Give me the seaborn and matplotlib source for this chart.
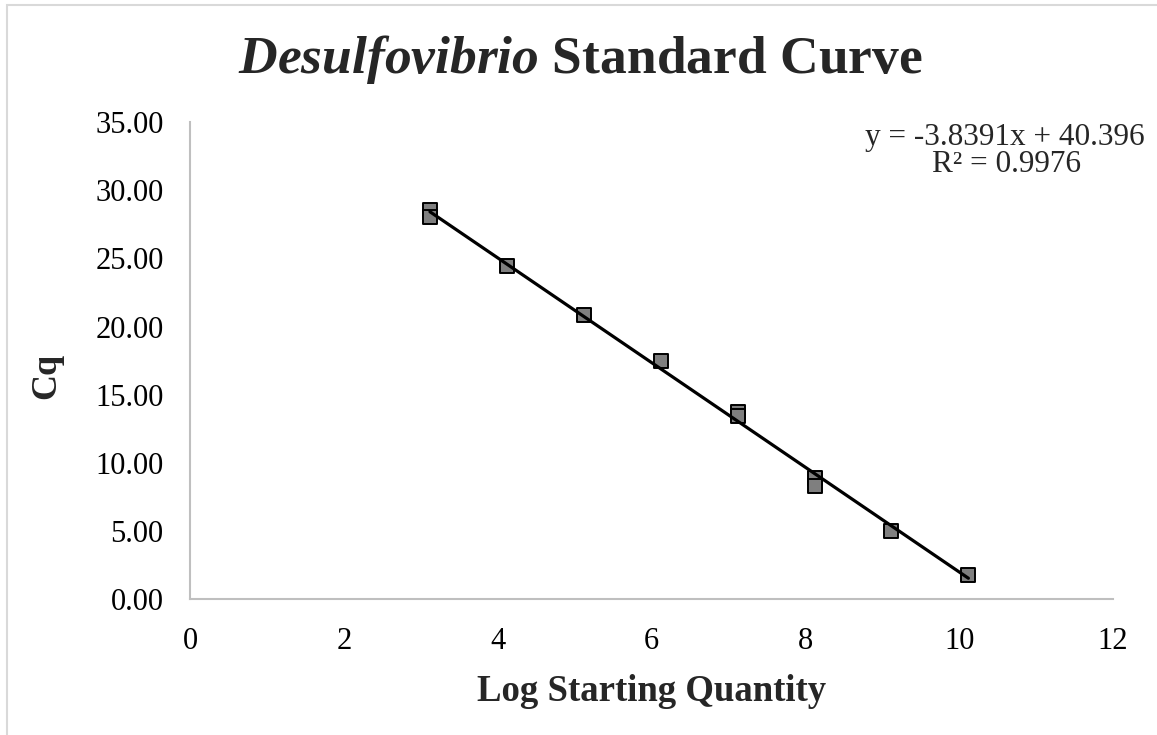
import matplotlib
matplotlib.use("Agg")
import matplotlib.pyplot as plt
import matplotlib.patches as mpatches
import numpy as np
import pandas as pd
import seaborn as sns

# Standard curve measurements (duplicate wells where two squares appear)
log_qty = [3.12, 3.12, 4.12, 5.12, 6.12, 7.12, 7.12, 8.12, 8.12, 9.12, 10.12]
cq = [28.56, 28.00, 24.47, 20.88, 17.47, 13.73, 13.42, 8.89, 8.28, 5.01, 1.78]

# Linear trendline as reported
slope = -3.8391
intercept = 40.396
r_squared = 0.9976

x_ticks = [0, 2, 4, 6, 8, 10, 12]
y_ticks = [0, 5, 10, 15, 20, 25, 30, 35]

sns.set_theme(style="white")
plt.rcParams["font.family"] = ["Liberation Serif", "DejaVu Serif"]
plt.rcParams["mathtext.fontset"] = "custom"
plt.rcParams["mathtext.it"] = "Liberation Serif:italic:bold"
plt.rcParams["mathtext.rm"] = "Liberation Serif:bold"

W, H = 1157, 735
fig = plt.figure(figsize=(W / 100, H / 100), dpi=100)
ax_left, ax_right, ax_top, ax_bottom = 190, 1113, 122, 599.3
ax = fig.add_axes([ax_left / W, 1 - ax_bottom / H,
                   (ax_right - ax_left) / W, (ax_bottom - ax_top) / H])

# Chart-area border
fig.patches.append(mpatches.Rectangle((7 / W, -0.05), 1.2, 1 - 5 / H + 0.05,
                                      transform=fig.transFigure, fill=False,
                                      edgecolor="#d9d9d9", linewidth=1.5, zorder=0))

df = pd.DataFrame({"x": log_qty, "y": cq})
sns.scatterplot(data=df, x="x", y="y", ax=ax, marker="s", s=110,
                color="#7f7f7f", edgecolor="black", linewidth=1.4, zorder=3)

x_fit = np.array([min(log_qty), max(log_qty)])
fit_df = pd.DataFrame({"x": x_fit, "y": slope * x_fit + intercept})
sns.lineplot(data=fit_df, x="x", y="y", ax=ax, color="black", linewidth=2.3, zorder=4)

ax.set_xlim(0, 12)
ax.set_ylim(0, 35)
ax.set_xticks(x_ticks)
ax.set_xticklabels([str(t) for t in x_ticks])
ax.set_yticks(y_ticks)
ax.set_yticklabels([f"{t:.2f}" for t in y_ticks])
ax.tick_params(axis="both", length=0, labelsize=22, colors="black")
ax.tick_params(axis="y", pad=19)
ax.tick_params(axis="x", pad=20)

for side in ["top", "right"]:
    ax.spines[side].set_visible(False)
for side in ["left", "bottom"]:
    ax.spines[side].set_color("#bfbfbf")
    ax.spines[side].set_linewidth(1.5)

ax.set_xlabel("Log Starting Quantity", fontsize=26.5, fontweight="bold", labelpad=13)
ax.set_ylabel("Cq", fontsize=26, fontweight="bold")
ax.yaxis.set_label_coords((63 - ax_left) / (ax_right - ax_left),
                          (ax_bottom - 376) / (ax_bottom - ax_top))

fig.text(580 / W, 1 - 60 / H, r"$\mathit{Desulfovibrio}$ Standard Curve",
         ha="center", va="center", fontsize=38.5, fontweight="bold")

fig.text(1005 / W, 1 - 137 / H, f"y = {slope}x + {intercept}",
         ha="center", va="center", fontsize=22.5)
fig.text(1007 / W, 1 - 165 / H, f"R² = {r_squared}",
         ha="center", va="center", fontsize=22.5)

fig.savefig("out.png", dpi=100)
